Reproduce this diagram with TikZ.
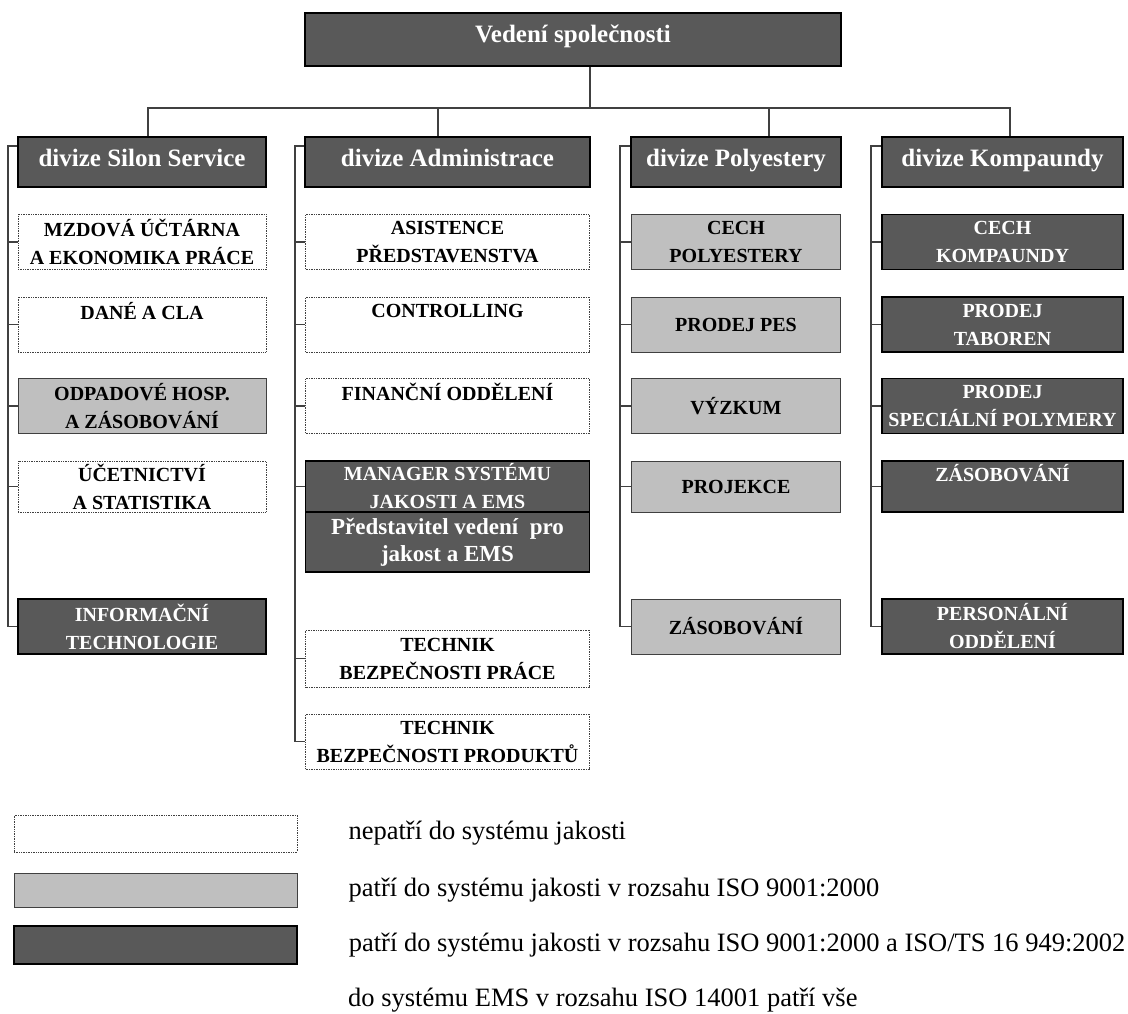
\documentclass[tikz,border=0pt]{standalone}
\usepackage{fontspec}
\setmainfont{Liberation Serif}
\usetikzlibrary{positioning}

\definecolor{isogray}{RGB}{191,191,191}
\definecolor{tsgray}{RGB}{89,89,89}
\definecolor{linegray}{RGB}{64,64,64}

\newcommand{\boxfont}{\fontsize{20}{28}\selectfont\bfseries}
\newcommand{\headfont}{\fontsize{25}{30}\selectfont\bfseries}
\newcommand{\reprfont}{\fontsize{23}{27}\selectfont\bfseries}
\newcommand{\legfont}{\fontsize{26.5}{30}\selectfont}

\tikzset{
  unit/.style={rectangle, minimum height=55pt, inner sep=1pt, align=center, font=\boxfont},
  mimo/.style={unit, draw=linegray, densely dotted, line width=0.7pt},
  iso/.style={unit, draw=linegray, fill=isogray, line width=1pt},
  isots/.style={unit, draw=black, fill=tsgray, line width=1.3pt, text=white},
  divize/.style={rectangle, draw=black, fill=tsgray, line width=2pt, text=white, font=\headfont,
    minimum height=50pt, text height=17pt, text depth=7pt},
  link/.style={draw=linegray, line width=1.1pt},
  legtext/.style={font=\legfont, inner sep=0pt, anchor=west},
  colS/.style={minimum width=248pt},
  colA/.style={minimum width=284pt},
  colP/.style={minimum width=209pt},
  colK/.style={minimum width=241pt}
}

\begin{document}
\begin{tikzpicture}[x=1pt,y=-1pt,node distance=82pt]
  \useasboundingbox (0,0) rectangle (1128,1014);

  \node[divize, minimum width=536pt, minimum height=53pt, text depth=10pt] (top) at (573,39.5) {Vedení společnosti};

  \node[divize, colS] (silon) at (142,162) {divize Silon Service};
  \node[divize, minimum width=285pt] (admin) at (447.5,162) {divize Administrace};
  \node[divize, minimum width=210pt] (poly) at (736,162) {divize Polyestery};
  \node[divize, minimum width=241pt] (komp) at (1002.5,162) {divize Kompaundy};

  % divize Silon Service
  \node[mimo, colS]  (mzdy)   [node distance=80pt, below of=silon] {MZDOVÁ ÚČTÁRNA\\A EKONOMIKA PRÁCE};
  \node[mimo, colS]  (dane)   [node distance=82.5pt, below of=mzdy] {DANÉ A CLA\\\mbox{}};
  \node[iso, colS]   (odpad)  [node distance=81.5pt, below of=dane] {ODPADOVÉ HOSP.\\A ZÁSOBOVÁNÍ};
  \node[mimo, colS, minimum height=51pt] (ucet) [node distance=80.5pt, below of=odpad] {ÚČETNICTVÍ\\A STATISTIKA};
  \node[isots, colS] (infotech) [node distance=140pt, below of=ucet] {INFORMAČNÍ\\TECHNOLOGIE};

  % divize Administrace
  \node[mimo, colA]  (asist)  [node distance=80pt, below of=admin] {ASISTENCE\\PŘEDSTAVENSTVA};
  \node[mimo, colA]  (contr)  [node distance=82.5pt, below of=asist] {CONTROLLING\\\mbox{}};
  \node[mimo, colA]  (financ) [node distance=81.5pt, below of=contr] {FINANČNÍ ODDĚLENÍ\\\mbox{}};
  \node[isots, colA, minimum height=51pt] (manager) [node distance=80.5pt, below of=financ] {MANAGER SYSTÉMU\\JAKOSTI A EMS};
  \node[isots, colA, minimum height=60pt, font=\reprfont] (repr) [node distance=55.5pt, below of=manager] {Představitel vedení~ pro\\jakost a EMS};
  \node[mimo, colA, minimum height=57pt] (techpr) [node distance=116.5pt, below of=repr] {TECHNIK\\BEZPEČNOSTI PRÁCE};
  \node[mimo, colA]  (techprod) [node distance=83pt, below of=techpr] {TECHNIK\\BEZPEČNOSTI PRODUKTŮ};

  % divize Polyestery
  \node[iso, colP]   (cechP)  [node distance=80pt, below of=poly] {CECH\\POLYESTERY};
  \node[iso, colP]   (pes)    [node distance=82.5pt, below of=cechP] {PRODEJ PES};
  \node[iso, colP]   (vyzkum) [node distance=81.5pt, below of=pes] {VÝZKUM};
  \node[iso, colP, minimum height=51pt] (projekce) [node distance=80.5pt, below of=vyzkum] {PROJEKCE};
  \node[iso, colP]   (zasobP) [node distance=140pt, below of=projekce] {ZÁSOBOVÁNÍ};

  % divize Kompaundy
  \node[isots, colK] (cechK)  [node distance=80pt, below of=komp] {CECH\\KOMPAUNDY};
  \node[isots, colK] (taboren) [node distance=82.5pt, below of=cechK] {PRODEJ\\TABOREN};
  \node[isots, colK] (specpol) [node distance=81.5pt, below of=taboren] {PRODEJ\\SPECIÁLNÍ POLYMERY};
  \node[isots, colK, minimum height=51pt] (zasobK) [node distance=80.5pt, below of=specpol] {ZÁSOBOVÁNÍ\\\mbox{}};
  \node[isots, colK] (personal) [node distance=140pt, below of=zasobK] {PERSONÁLNÍ\\ODDĚLENÍ};

  % vedeni -> divize
  \draw[link] ([xshift=17pt]top.south) -- ++(0,41) -| ([xshift=6pt]silon.north);
  \draw[link] ([xshift=17pt]top.south) -- ++(0,41) -| ([xshift=-9.5pt]admin.north);
  \draw[link] ([xshift=17pt]top.south) -- ++(0,41) -| ([xshift=33pt]poly.north);
  \draw[link] ([xshift=17pt]top.south) -- ++(0,41) -| ([xshift=7.5pt]komp.north);

  % divize -> utvary
  \draw[link] ([yshift=-10pt]silon.north west) -- ++(-9,0) |- (infotech.west);
  \draw[link] ([yshift=-10pt]admin.north west) -- ++(-9,0) |- (techprod.west);
  \draw[link] ([yshift=-10pt]poly.north west) -- ++(-10,0) |- (zasobP.west);
  \draw[link] ([yshift=-10pt]komp.north west) -- ++(-10,0) |- (personal.west);
  \foreach \n in {mzdy,dane,odpad,ucet}
    \draw[link] (\n.west) -- ++(-9,0);
  \foreach \n in {asist,contr,financ,manager,techpr}
    \draw[link] (\n.west) -- ++(-10,0);
  \foreach \n in {cechP,pes,vyzkum,projekce,cechK,taboren,specpol,zasobK}
    \draw[link] (\n.west) -- ++(-10,0);

  % legenda
  \node[mimo, minimum width=283pt, minimum height=37pt] (leg1) at (155.5,833.5) {};
  \node[iso, minimum width=283pt, minimum height=34pt] (leg2) at (155.5,890) {};
  \node[isots, minimum width=283pt, minimum height=38pt] (leg3) at (155.5,945) {};
  \node[legtext, right=51pt of leg1] (leg1txt) {nepatří do systému jakosti};
  \node[legtext, right=51pt of leg2] (leg2txt) {patří do systému jakosti v rozsahu ISO 9001:2000};
  \node[legtext, right=51pt of leg3] (leg3txt) {patří do systému jakosti v rozsahu ISO 9001:2000 a ISO/TS 16 949:2002};
  \node[legtext] (leg4txt) at (348,1000) {do systému EMS v rozsahu ISO 14001 patří vše};
\end{tikzpicture}
\end{document}
